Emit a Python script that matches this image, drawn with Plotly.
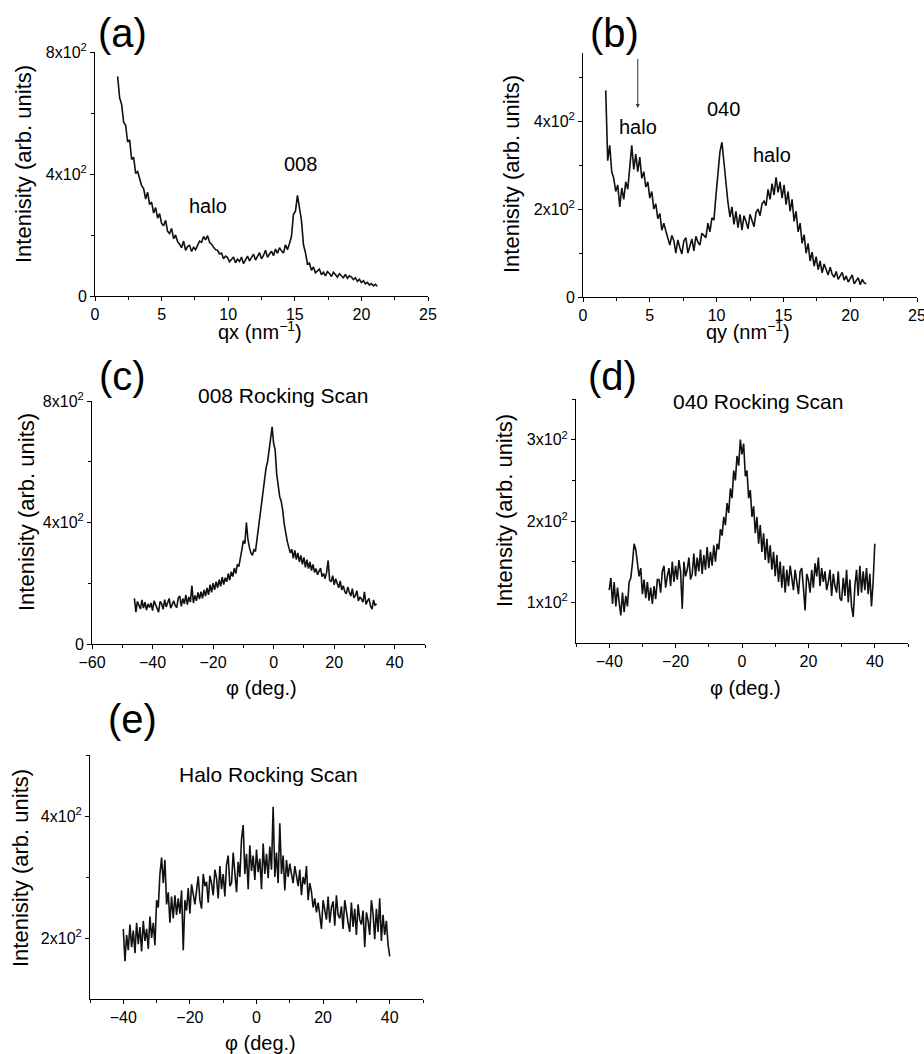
import plotly.graph_objects as go

W, H = 924, 1054
FONT = "Liberation Sans, Arial, Helvetica, sans-serif"

# ---- data --------------------------------------------------------------
# q grid (nm^-1) shared by panels (a) and (b)
Q_NM = [1.70, 1.85, 2.00, 2.15, 2.30, 2.45, 2.60, 2.75, 2.90, 3.05,
        3.20, 3.35, 3.50, 3.65, 3.80, 3.95, 4.10, 4.25, 4.40, 4.55,
        4.70, 4.85, 5.00, 5.15, 5.30, 5.45, 5.60, 5.75, 5.90, 6.05,
        6.20, 6.35, 6.50, 6.65, 6.80, 6.95, 7.10, 7.25, 7.40, 7.55,
        7.70, 7.85, 8.00, 8.15, 8.30, 8.45, 8.60, 8.75, 8.90, 9.05,
        9.20, 9.35, 9.50, 9.65, 9.80, 9.95, 10.10, 10.25, 10.40, 10.55,
        10.70, 10.85, 11.00, 11.15, 11.30, 11.45, 11.60, 11.75, 11.90, 12.05,
        12.20, 12.35, 12.50, 12.65, 12.80, 12.95, 13.10, 13.25, 13.40, 13.55,
        13.70, 13.85, 14.00, 14.15, 14.30, 14.45, 14.60, 14.75, 14.90, 15.05,
        15.20, 15.35, 15.50, 15.65, 15.80, 15.95, 16.10, 16.25, 16.40, 16.55,
        16.70, 16.85, 17.00, 17.15, 17.30, 17.45, 17.60, 17.75, 17.90, 18.05,
        18.20, 18.35, 18.50, 18.65, 18.80, 18.95, 19.10, 19.25, 19.40, 19.55,
        19.70, 19.85, 20.00, 20.15, 20.30, 20.45, 20.60, 20.75, 20.90, 21.05,
        21.20]

INT_A = [720, 650, 628, 570, 560, 505, 512, 448, 455, 402,
         408, 385, 362, 352, 318, 340, 300, 308, 272, 290,
         255, 270, 238, 230, 248, 212, 205, 222, 188, 200,
         178, 170, 158, 180, 150, 162, 166, 146, 160, 152,
         168, 180, 176, 195, 184, 198, 176, 170, 160, 152,
         150, 138, 141, 122, 131, 126, 112, 120, 128, 109,
         121, 113, 128, 106, 118, 131, 115, 124, 137, 118,
         128, 142, 122, 133, 150, 127, 138, 147, 132, 154,
         140, 158, 148, 141, 168, 152, 172, 195, 268, 278,
         330, 290, 248, 168, 142, 105, 108, 84, 95, 76,
         82, 88, 70, 78, 66, 80, 74, 64, 78, 69,
         62, 73, 66, 60, 71, 58, 66, 62, 54, 60,
         48, 55, 44, 50, 40, 45, 36, 41, 33, 38,
         32]

INT_B = [470, 310, 345, 285, 270, 240, 255, 205, 248, 222,
         262, 245, 295, 345, 290, 325, 285, 318, 270, 285,
         250, 262, 225, 240, 200, 212, 178, 190, 152, 168,
         150, 135, 118, 140, 128, 100, 130, 112, 98, 128,
         135, 100, 118, 132, 105, 138, 125, 118, 145, 140,
         135, 168, 148, 180, 175, 230, 285, 330, 352, 300,
         250, 215, 182, 205, 165, 195, 158, 188, 152, 185,
         172, 155, 188, 175, 160, 192, 200, 185, 212, 218,
         208, 245, 222, 258, 232, 272, 238, 262, 225, 255,
         210, 240, 195, 222, 172, 195, 148, 168, 122, 142,
         100, 122, 82, 102, 70, 92, 62, 82, 55, 75,
         62, 50, 68, 52, 45, 58, 40, 48, 56, 38,
         48, 34, 42, 50, 30, 36, 44, 28, 40, 32,
         30]

PHI_C = [-46.0, -45.5, -45.0, -44.5, -44.0, -43.5, -43.0, -42.5, -42.0, -41.5,
         -41.0, -40.5, -40.0, -39.5, -39.0, -38.5, -38.0, -37.5, -37.0, -36.5,
         -36.0, -35.5, -35.0, -34.5, -34.0, -33.5, -33.0, -32.5, -32.0, -31.5,
         -31.0, -30.5, -30.0, -29.5, -29.0, -28.5, -28.0, -27.5, -27.0, -26.5,
         -26.0, -25.5, -25.0, -24.5, -24.0, -23.5, -23.0, -22.5, -22.0, -21.5,
         -21.0, -20.5, -20.0, -19.5, -19.0, -18.5, -18.0, -17.5, -17.0, -16.5,
         -16.0, -15.5, -15.0, -14.5, -14.0, -13.5, -13.0, -12.5, -12.0, -11.5,
         -11.0, -10.5, -10.0, -9.5, -9.0, -8.5, -8.0, -7.5, -7.0, -6.5,
         -6.0, -5.5, -5.0, -4.5, -4.0, -3.5, -3.0, -2.5, -2.0, -1.5,
         -1.0, -0.5, 0.0, 0.5, 1.0, 1.5, 2.0, 2.5, 3.0, 3.5,
         4.0, 4.5, 5.0, 5.5, 6.0, 6.5, 7.0, 7.5, 8.0, 8.5,
         9.0, 9.5, 10.0, 10.5, 11.0, 11.5, 12.0, 12.5, 13.0, 13.5,
         14.0, 14.5, 15.0, 15.5, 16.0, 16.5, 17.0, 17.5, 18.0, 18.5,
         19.0, 19.5, 20.0, 20.5, 21.0, 21.5, 22.0, 22.5, 23.0, 23.5,
         24.0, 24.5, 25.0, 25.5, 26.0, 26.5, 27.0, 27.5, 28.0, 28.5,
         29.0, 29.5, 30.0, 30.5, 31.0, 31.5, 32.0, 32.5, 33.0, 33.5,
         34.0]

INT_C = [150, 105, 140, 128, 115, 145, 118, 138, 112, 132,
         120, 135, 110, 142, 128, 118, 105, 140, 132, 114,
         146, 122, 138, 150, 118, 132, 142, 126, 120, 152,
         158, 124, 150, 132, 162, 130, 155, 138, 192, 135,
         160, 142, 170, 148, 172, 150, 178, 158, 185, 162,
         195, 170, 200, 178, 205, 185, 212, 190, 220, 196,
         218, 205, 232, 210, 238, 222, 250, 232, 262, 255,
         290, 310, 340, 330, 400, 345, 318, 300, 292, 310,
         305, 345, 372, 420, 455, 505, 540, 580, 600, 640,
         672, 715, 660, 640, 560, 510, 485, 470, 440, 395,
         360, 338, 318, 300, 312, 282, 308, 278, 300, 270,
         292, 262, 285, 252, 278, 248, 270, 242, 262, 236,
         248, 228, 240, 250, 222, 232, 215, 236, 275, 210,
         205, 225, 195, 215, 200, 185, 208, 178, 192, 172,
         165, 188, 170, 158, 182, 152, 160, 175, 142, 155,
         148, 138, 172, 130, 142, 150, 125, 115, 145, 128,
         132]

# phi grid (deg.) shared by panels (d) and (e)
PHI_DE = [-40.0, -39.5, -39.0, -38.5, -38.0, -37.5, -37.0, -36.5, -36.0, -35.5,
          -35.0, -34.5, -34.0, -33.5, -33.0, -32.5, -32.0, -31.5, -31.0, -30.5,
          -30.0, -29.5, -29.0, -28.5, -28.0, -27.5, -27.0, -26.5, -26.0, -25.5,
          -25.0, -24.5, -24.0, -23.5, -23.0, -22.5, -22.0, -21.5, -21.0, -20.5,
          -20.0, -19.5, -19.0, -18.5, -18.0, -17.5, -17.0, -16.5, -16.0, -15.5,
          -15.0, -14.5, -14.0, -13.5, -13.0, -12.5, -12.0, -11.5, -11.0, -10.5,
          -10.0, -9.5, -9.0, -8.5, -8.0, -7.5, -7.0, -6.5, -6.0, -5.5,
          -5.0, -4.5, -4.0, -3.5, -3.0, -2.5, -2.0, -1.5, -1.0, -0.5,
          0.0, 0.5, 1.0, 1.5, 2.0, 2.5, 3.0, 3.5, 4.0, 4.5,
          5.0, 5.5, 6.0, 6.5, 7.0, 7.5, 8.0, 8.5, 9.0, 9.5,
          10.0, 10.5, 11.0, 11.5, 12.0, 12.5, 13.0, 13.5, 14.0, 14.5,
          15.0, 15.5, 16.0, 16.5, 17.0, 17.5, 18.0, 18.5, 19.0, 19.5,
          20.0, 20.5, 21.0, 21.5, 22.0, 22.5, 23.0, 23.5, 24.0, 24.5,
          25.0, 25.5, 26.0, 26.5, 27.0, 27.5, 28.0, 28.5, 29.0, 29.5,
          30.0, 30.5, 31.0, 31.5, 32.0, 32.5, 33.0, 33.5, 34.0, 34.5,
          35.0, 35.5, 36.0, 36.5, 37.0, 37.5, 38.0, 38.5, 39.0, 39.5,
          40.0]

INT_D = [115, 130, 98, 125, 95, 118, 100, 84, 112, 88,
         108, 95, 125, 130, 148, 172, 165, 150, 132, 142,
         110, 128, 105, 125, 102, 118, 98, 120, 104, 128,
         128, 112, 138, 145, 118, 132, 142, 120, 150, 125,
         145, 128, 152, 138, 92, 150, 132, 140, 155, 128,
         135, 160, 132, 155, 138, 165, 135, 158, 140, 168,
         142, 162, 145, 170, 150, 172, 165, 190, 182, 205,
         195, 222, 210, 240, 228, 262, 250, 280, 268, 300,
         282, 295, 255, 262, 228, 238, 205, 218, 185, 205,
         172, 195, 162, 185, 152, 178, 148, 170, 140, 162,
         132, 158, 125, 150, 118, 145, 112, 140, 120, 145,
         130, 115, 140, 125, 110, 138, 142, 118, 90, 135,
         128, 112, 140, 118, 148, 132, 155, 120, 142, 125,
         138, 115, 125, 140, 108, 135, 120, 112, 138, 105,
         102, 130, 108, 140, 100, 128, 95, 82, 120, 140,
         108, 145, 112, 138, 115, 142, 110, 135, 95, 125,
         172]

INT_E = [215, 162, 205, 180, 222, 185, 212, 175, 225, 190,
         218, 178, 228, 195, 215, 182, 235, 200, 225, 188,
         262, 250, 305, 332, 290, 328, 255, 275, 225, 268,
         232, 270, 238, 265, 240, 278, 180, 262, 245, 282,
         240, 288, 272, 255, 278, 301, 262, 248, 305, 285,
         292, 258, 302, 290, 270, 312, 298, 265, 318, 280,
         305, 268, 320, 335, 285, 290, 340, 312, 275, 325,
         300, 362, 385, 305, 338, 280, 352, 310, 335, 295,
         345, 308, 330, 280, 355, 305, 338, 298, 350, 312,
         415, 300, 340, 290, 388, 305, 335, 278, 328, 300,
         322, 305, 290, 318, 298, 285, 312, 270, 300, 288,
         318, 262, 290, 276, 250, 265, 242, 258, 238, 215,
         262, 245, 230, 268, 225, 250, 260, 220, 270, 238,
         232, 252, 215, 262, 240, 225, 210, 258, 218, 248,
         205, 255, 230, 222, 245, 185, 242, 228, 205, 262,
         240, 198, 248, 210, 265, 195, 238, 205, 228, 190,
         170]

SUP = "x10<sup>2</sup>"


def px(x, y):
    return x / W, 1 - y / H


def make_axes(box, xr, xt, xm, yr, yt, ytext, ym):
    l, r, t, b = box
    common = dict(showline=True, linecolor="black", linewidth=1,
                  ticks="outside", ticklen=4, tickwidth=1, tickcolor="black",
                  showgrid=False, zeroline=False, tickmode="array",
                  automargin=False, ticklabeloverflow="allow",
                  tickfont=dict(family=FONT, size=16, color="black"))
    xa = dict(common, domain=[l / W, r / W], range=xr, tickvals=xt,
              minor=dict(tickmode="array", tickvals=xm, ticks="outside",
                         ticklen=3, tickcolor="black", showgrid=False))
    ya = dict(common, domain=[1 - b / H, 1 - t / H], range=yr, tickvals=yt,
              ticktext=ytext,
              minor=dict(tickmode="array", tickvals=ym, ticks="outside",
                         ticklen=3, tickcolor="black", showgrid=False))
    return xa, ya


fig = go.Figure()

panels = [
    (Q_NM, INT_A, (95, 428, 52, 296), [0, 25], [0, 5, 10, 15, 20, 25],
     [2.5, 7.5, 12.5, 17.5, 22.5], [0, 800], [0, 400, 800],
     ["0", "4" + SUP, "8" + SUP], [200, 600]),
    (Q_NM, INT_B, (583, 917, 53, 297), [0, 25], [0, 5, 10, 15, 20, 25],
     [2.5, 7.5, 12.5, 17.5, 22.5], [0, 555], [0, 200, 400],
     ["0", "2" + SUP, "4" + SUP], [100, 300, 500]),
    (PHI_C, INT_C, (92, 425, 401, 644), [-60, 50], [-60, -40, -20, 0, 20, 40],
     [-50, -30, -10, 10, 30, 50], [0, 800], [0, 400, 800],
     ["0", "4" + SUP, "8" + SUP], [200, 600]),
    (PHI_DE, INT_D, (576, 908, 399, 643), [-50, 50], [-40, -20, 0, 20, 40],
     [-50, -30, -10, 10, 30, 50], [50, 350], [100, 200, 300],
     ["1" + SUP, "2" + SUP, "3" + SUP], [150, 250, 350]),
    (PHI_DE, INT_E, (90, 423, 755, 999), [-50, 50], [-40, -20, 0, 20, 40],
     [-50, -30, -10, 10, 30, 50], [100, 500], [200, 400],
     ["2" + SUP, "4" + SUP], [300, 500]),
]

layout = {}
for i, (xs, ys, box, xr, xt, xm, yr, yt, ytext, ym) in enumerate(panels):
    n = "" if i == 0 else str(i + 1)
    fig.add_trace(go.Scatter(x=xs, y=ys, mode="lines",
                             line=dict(color="#111111", width=1.6),
                             xaxis="x" + n, yaxis="y" + n, showlegend=False))
    xa, ya = make_axes(box, xr, xt, xm, yr, yt, ytext, ym)
    xa["anchor"] = "y" + n
    ya["anchor"] = "x" + n
    layout["xaxis" + n] = xa
    layout["yaxis" + n] = ya

# ---- text -----------------------------------------------------------------
ann = []


def text(x, y, s, size, angle=0):
    xx, yy = px(x, y)
    ann.append(dict(x=xx, y=yy, xref="paper", yref="paper", text=s,
                    showarrow=False, textangle=angle, xanchor="center",
                    yanchor="middle",
                    font=dict(family=FONT, size=size, color="black")))


# panel letters
for lab, x, y in [("(a)", 123, 33), ("(b)", 614, 33), ("(c)", 122, 376),
                  ("(d)", 612, 376), ("(e)", 132, 719)]:
    text(x, y, lab, 40)

# y titles
text(23, 164, "Intenisity (arb. units)", 22, -90)
text(512, 174, "Intenisity (arb. units)", 22, -90)
text(26, 512, "Intenisity (arb. units)", 22, -90)
text(504, 510, "Intensity (arb. units)", 22, -90)
text(20, 868, "Intenisity (arb. units)", 22, -90)

# x titles
text(260, 330, "qx (nm<sup>\u22121</sup>)", 20)
text(748, 331, "qy (nm<sup>\u22121</sup>)", 20)
text(261, 688, "\u03c6 (deg.)", 20)
text(745, 688, "\u03c6 (deg.)", 20)
text(260, 1043, "\u03c6 (deg.)", 20)

# peak labels and scan titles
text(208, 206, "halo", 20)
text(300, 164, "008", 20)
text(638, 127, "halo", 20)
text(723, 109, "040", 20)
text(772, 155, "halo", 20)
text(283, 395, "008 Rocking Scan", 21)
text(758, 402, "040 Rocking Scan", 21)
text(268, 774, "Halo Rocking Scan", 21)

# arrow pointing at the first halo in (b)
ann.append(dict(x=4.1, y=430, ax=4.1, ay=545, xref="x2", yref="y2",
                axref="x2", ayref="y2", text="", showarrow=True,
                arrowhead=2, arrowsize=0.8, arrowwidth=1, arrowcolor="#333333"))

fig.update_layout(width=W, height=H, margin=dict(l=0, r=0, t=0, b=0),
                  paper_bgcolor="white", plot_bgcolor="white",
                  annotations=ann, **layout)

# drop the browser's default 8px body margin so the figure sits at 0,0
fig.write_html("out.html", config={"displayModeBar": False},
               post_script="document.body.style.margin='0px';")
